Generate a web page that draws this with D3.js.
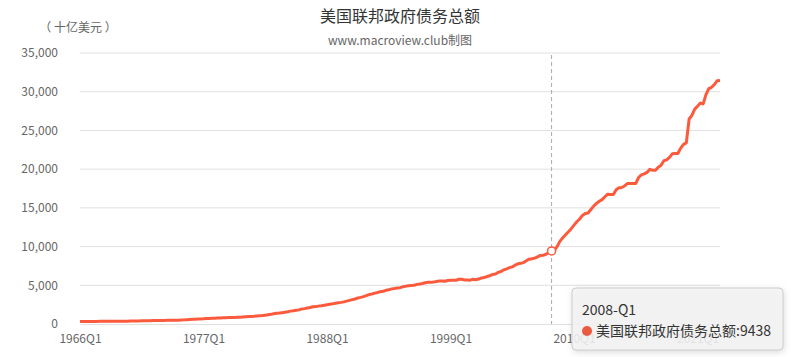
<!DOCTYPE html>
<html>
<head>
<meta charset="utf-8">
<script src="https://cdn.jsdelivr.net/npm/d3@7/dist/d3.min.js"></script>
<style>
html,body{margin:0;padding:0;background:#fff;}
svg{display:block;font-family:"Microsoft YaHei","Noto Sans CJK SC","Noto Sans",sans-serif;}
</style>
</head>
<body>
<svg id="chart" width="797" height="357"></svg>
<script>
const title = "美国联邦政府债务总额";
const subtitle = "www.macroview.club制图";
const yAxisName = "（ 十亿美元 ）";
const seriesName = "美国联邦政府债务总额";
const startYear = 1966;
const yTicks = [0, 5000, 10000, 15000, 20000, 25000, 30000, 35000];
// quarterly values, 1966Q1 .. 2023Q1 (billions of USD)
const debt = [
  321, 316, 325, 329,
  331, 323, 335, 345,
  345, 348, 356, 358,
  360, 354, 360, 367,
  369, 371, 380, 389,
  390, 398, 411, 424,
  424, 427, 436, 449,
  455, 458, 463, 469,
  472, 475, 485, 492,
  509, 533, 554, 576,
  600, 620, 635, 654,
  670, 699, 709, 730,
  749, 772, 780, 798,
  814, 827, 829, 845,
  863, 876, 907, 936,
  965, 982, 998, 1034,
  1062, 1086, 1142, 1201,
  1245, 1318, 1377, 1410,
  1462, 1517, 1572, 1663,
  1710, 1774, 1823, 1950,
  1986, 2059, 2125, 2220,
  2246, 2310, 2350, 2432,
  2487, 2548, 2602, 2684,
  2740, 2793, 2857, 2953,
  3052, 3144, 3233, 3365,
  3441, 3538, 3665, 3801,
  3881, 3984, 4065, 4177,
  4231, 4352, 4411, 4536,
  4576, 4645, 4693, 4800,
  4864, 4951, 4974, 4989,
  5118, 5161, 5224, 5323,
  5380, 5376, 5413, 5502,
  5542, 5548, 5526, 5614,
  5651, 5638, 5656, 5776,
  5773, 5686, 5674, 5662,
  5773, 5726, 5807, 5943,
  6006, 6126, 6228, 6405,
  6460, 6670, 6783, 6998,
  7131, 7274, 7379, 7596,
  7776, 7836, 7933, 8170,
  8371, 8420, 8507, 8680,
  8849, 8867, 9008, 9229,
  9438, 9492, 10025, 10700,
  11127, 11545, 11910, 12311,
  12773, 13202, 13562, 14025,
  14270, 14343, 14790, 15223,
  15582, 15856, 16066, 16433,
  16771, 16738, 16738, 17352,
  17601, 17632, 17824, 18141,
  18152, 18152, 18151, 18922,
  19264, 19381, 19573, 19977,
  19846, 19845, 20245, 20493,
  21090, 21195, 21516, 21974,
  22028, 22023, 22719, 23201,
  23400, 26477, 26945, 27748,
  28133, 28529, 28428, 29617,
  30401, 30569, 30929, 31420,
  31458
];
const categories = debt.map((_, i) => (startYear + Math.floor(i / 4)) + "Q" + (i % 4 + 1));
const highlightCategory = "2008Q1";
const xLabelStep = 44;

const svg = d3.select("#chart");
const plotLeft = 80, plotRight = 720, plotTop = 53, plotBottom = 324;

const x = d3.scalePoint().domain(categories).range([plotLeft, plotRight]);
const y = d3.scaleLinear().domain([0, 35000]).range([plotBottom, plotTop]);

// title
svg.append("text").attr("x", 400).attr("y", 22).attr("text-anchor", "middle")
  .attr("font-size", 16).attr("fill", "#333").text(title);
svg.append("text").attr("x", 400).attr("y", 45).attr("text-anchor", "middle")
  .attr("font-size", 12).attr("fill", "#666").text(subtitle);
svg.append("text").attr("x", 78).attr("y", 32).attr("text-anchor", "middle")
  .attr("font-size", 12).attr("fill", "#666").text(yAxisName);

// grid + y labels
const yAxis = d3.axisLeft(y).tickValues(yTicks).tickSize(0).tickPadding(22)
  .tickFormat(d3.format(","));
const gy = svg.append("g").attr("transform", `translate(${plotLeft},0)`).call(yAxis);
gy.select(".domain").remove();
gy.selectAll("text").attr("font-size", 12).attr("fill", "#666")
  .attr("font-family", "'Microsoft YaHei','Noto Sans CJK SC',sans-serif");
svg.append("g").selectAll("line").data(yTicks.filter(d => d > 0)).join("line")
  .attr("x1", plotLeft).attr("x2", plotRight).attr("y1", d => y(d)).attr("y2", d => y(d))
  .attr("stroke", "#e0e0e0").attr("stroke-width", 1);

// x axis
const xAxis = d3.axisBottom(x).tickValues(categories.filter((_, i) => i % xLabelStep === 0))
  .tickSize(0).tickPadding(10);
const gx = svg.append("g").attr("transform", `translate(0,${plotBottom})`).call(xAxis);
gx.select(".domain").attr("stroke", "#e0e0e0");
gx.selectAll("text").attr("font-size", 12).attr("fill", "#666")
  .attr("font-family", "'Microsoft YaHei','Noto Sans CJK SC',sans-serif");

// pointer line
const hx = x(highlightCategory);
svg.append("line").attr("x1", hx).attr("x2", hx).attr("y1", plotTop + 2).attr("y2", plotBottom)
  .attr("stroke", "#aaa").attr("stroke-width", 1).attr("stroke-dasharray", "4,3");

// series line
const line = d3.line().x((d, i) => x(categories[i])).y(d => y(d));
svg.append("path").datum(debt).attr("d", line).attr("fill", "none")
  .attr("stroke", "#fc5a3d").attr("stroke-width", 3).attr("stroke-linejoin", "round");

// highlighted point
const hi = categories.indexOf(highlightCategory);
svg.append("circle").attr("cx", hx).attr("cy", y(debt[hi])).attr("r", 4)
  .attr("fill", "#fff").attr("stroke", "#fc5a3d").attr("stroke-width", 1.5);

// tooltip (covers the last x label, as in the reference)
const tip = svg.append("g").attr("transform", "translate(572,288)");
tip.append("rect").attr("width", 211).attr("height", 62).attr("rx", 4)
  .attr("fill", "rgba(245,245,245,0.88)").attr("stroke", "#ccc").attr("stroke-width", 1)
  .style("filter", "drop-shadow(1px 2px 3px rgba(0,0,0,0.15))");
const hq = highlightCategory.replace("Q", "-Q");
tip.append("text").attr("x", 10).attr("y", 27).attr("font-size", 14).attr("fill", "#333").text(hq);
tip.append("circle").attr("cx", 15).attr("cy", 43).attr("r", 5).attr("fill", "#eb5a3e");
tip.append("text").attr("x", 24).attr("y", 48).attr("font-size", 14).attr("fill", "#333")
  .text(seriesName + ":" + debt[hi]);
</script>
</body>
</html>
